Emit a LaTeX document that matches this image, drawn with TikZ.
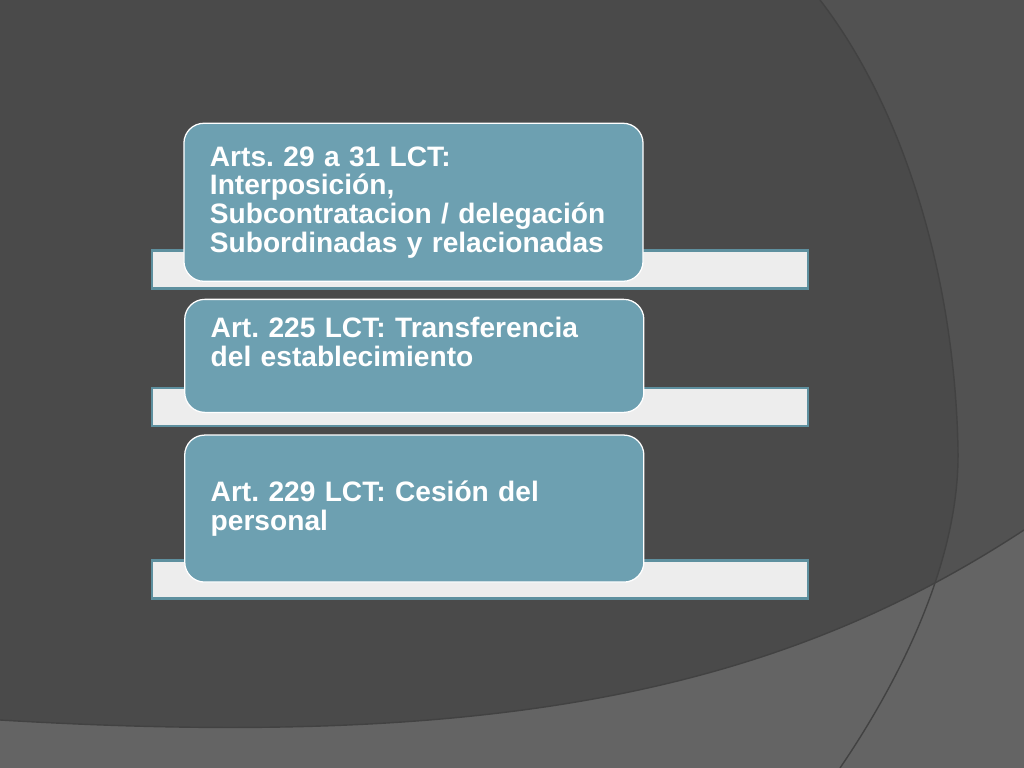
\documentclass[tikz,border=0pt]{standalone}
\usepackage{fontspec}
\setmainfont{Liberation Sans}
\usetikzlibrary{positioning}
\definecolor{slate}{HTML}{4A4A4A}
\definecolor{sweepgray}{HTML}{525252}
\definecolor{bandgray}{HTML}{646464}
\definecolor{edgegray}{HTML}{424242}
\definecolor{cardteal}{HTML}{6DA0B1}
\definecolor{barfill}{HTML}{EDEDED}
\definecolor{barline}{HTML}{5E909F}
\frenchspacing
\tikzset{
	every node/.append style={
		outer sep=0mm,
	},
	edge/.append style={
		draw=edgegray,
		line width=1pt,
	},
	bar/.append style={
		draw=barline,
		fill=barfill,
		line width=1.5pt,
		minimum width=16.4cm,
		minimum height=0.95cm,
	},
	card/.append style={
		draw=white,
		fill=cardteal,
		line width=0.9pt,
		rounded corners=0.5cm,
		text=white,
		align = left,
		text width=10.175cm,
		inner xsep=0.65cm,
		minimum width=11.475cm,
		font={\bfseries\fontsize{20}{20.4}\selectfont}
	}
}

\begin{document}
\begin{tikzpicture}[x=0.025cm, y=-0.025cm]
	\useasboundingbox (0,0) rectangle (1024,768);
	\fill[slate] (0,0) rectangle (1024,768);
	
	% lighter sweep on the right and band at the bottom
	\fill[sweepgray] (820,0) .. controls (905,110) and (955,280) .. (958,450)
		.. controls (960,560) and (900,680) .. (840,768) -- (1024,768) -- (1024,0) -- cycle;
	\fill[bandgray] (0,720) .. controls (500,750) and (780,690) .. (1024,530)
		-- (1024,768) -- (0,768) -- cycle;
	\draw[edge] (820,0) .. controls (905,110) and (955,280) .. (958,450)
		.. controls (960,560) and (900,680) .. (840,768);
	\draw[edge] (0,720) .. controls (500,750) and (780,690) .. (1024,530);
	
	\node (bar1)[bar] at (480,269.5) {};
	\node (bar2)[bar] at (480,407) {};
	\node (bar3)[bar] at (480,579.5) {};
	
	\node (card1)[card, minimum height=3.95cm, above right=0.18cm and 0.8cm of bar1.south west]
		{Arts. 29 a 31 LCT:\\ Interposición,\\ Subcontratacion / delegación\\ Subordinadas y relacionadas};
	\node (card2)[card, minimum height=2.825cm, above right=0.34cm and 0.82cm of bar2.south west]
		{Art. 225 LCT: Transferencia\\ del establecimiento\\ \mbox{}};
	\node (card3)[card, minimum height=3.675cm, above right=0.41cm and 0.82cm of bar3.south west]
		{Art. 229 LCT: Cesión del\\ personal};
	
\end{tikzpicture}
\end{document}
